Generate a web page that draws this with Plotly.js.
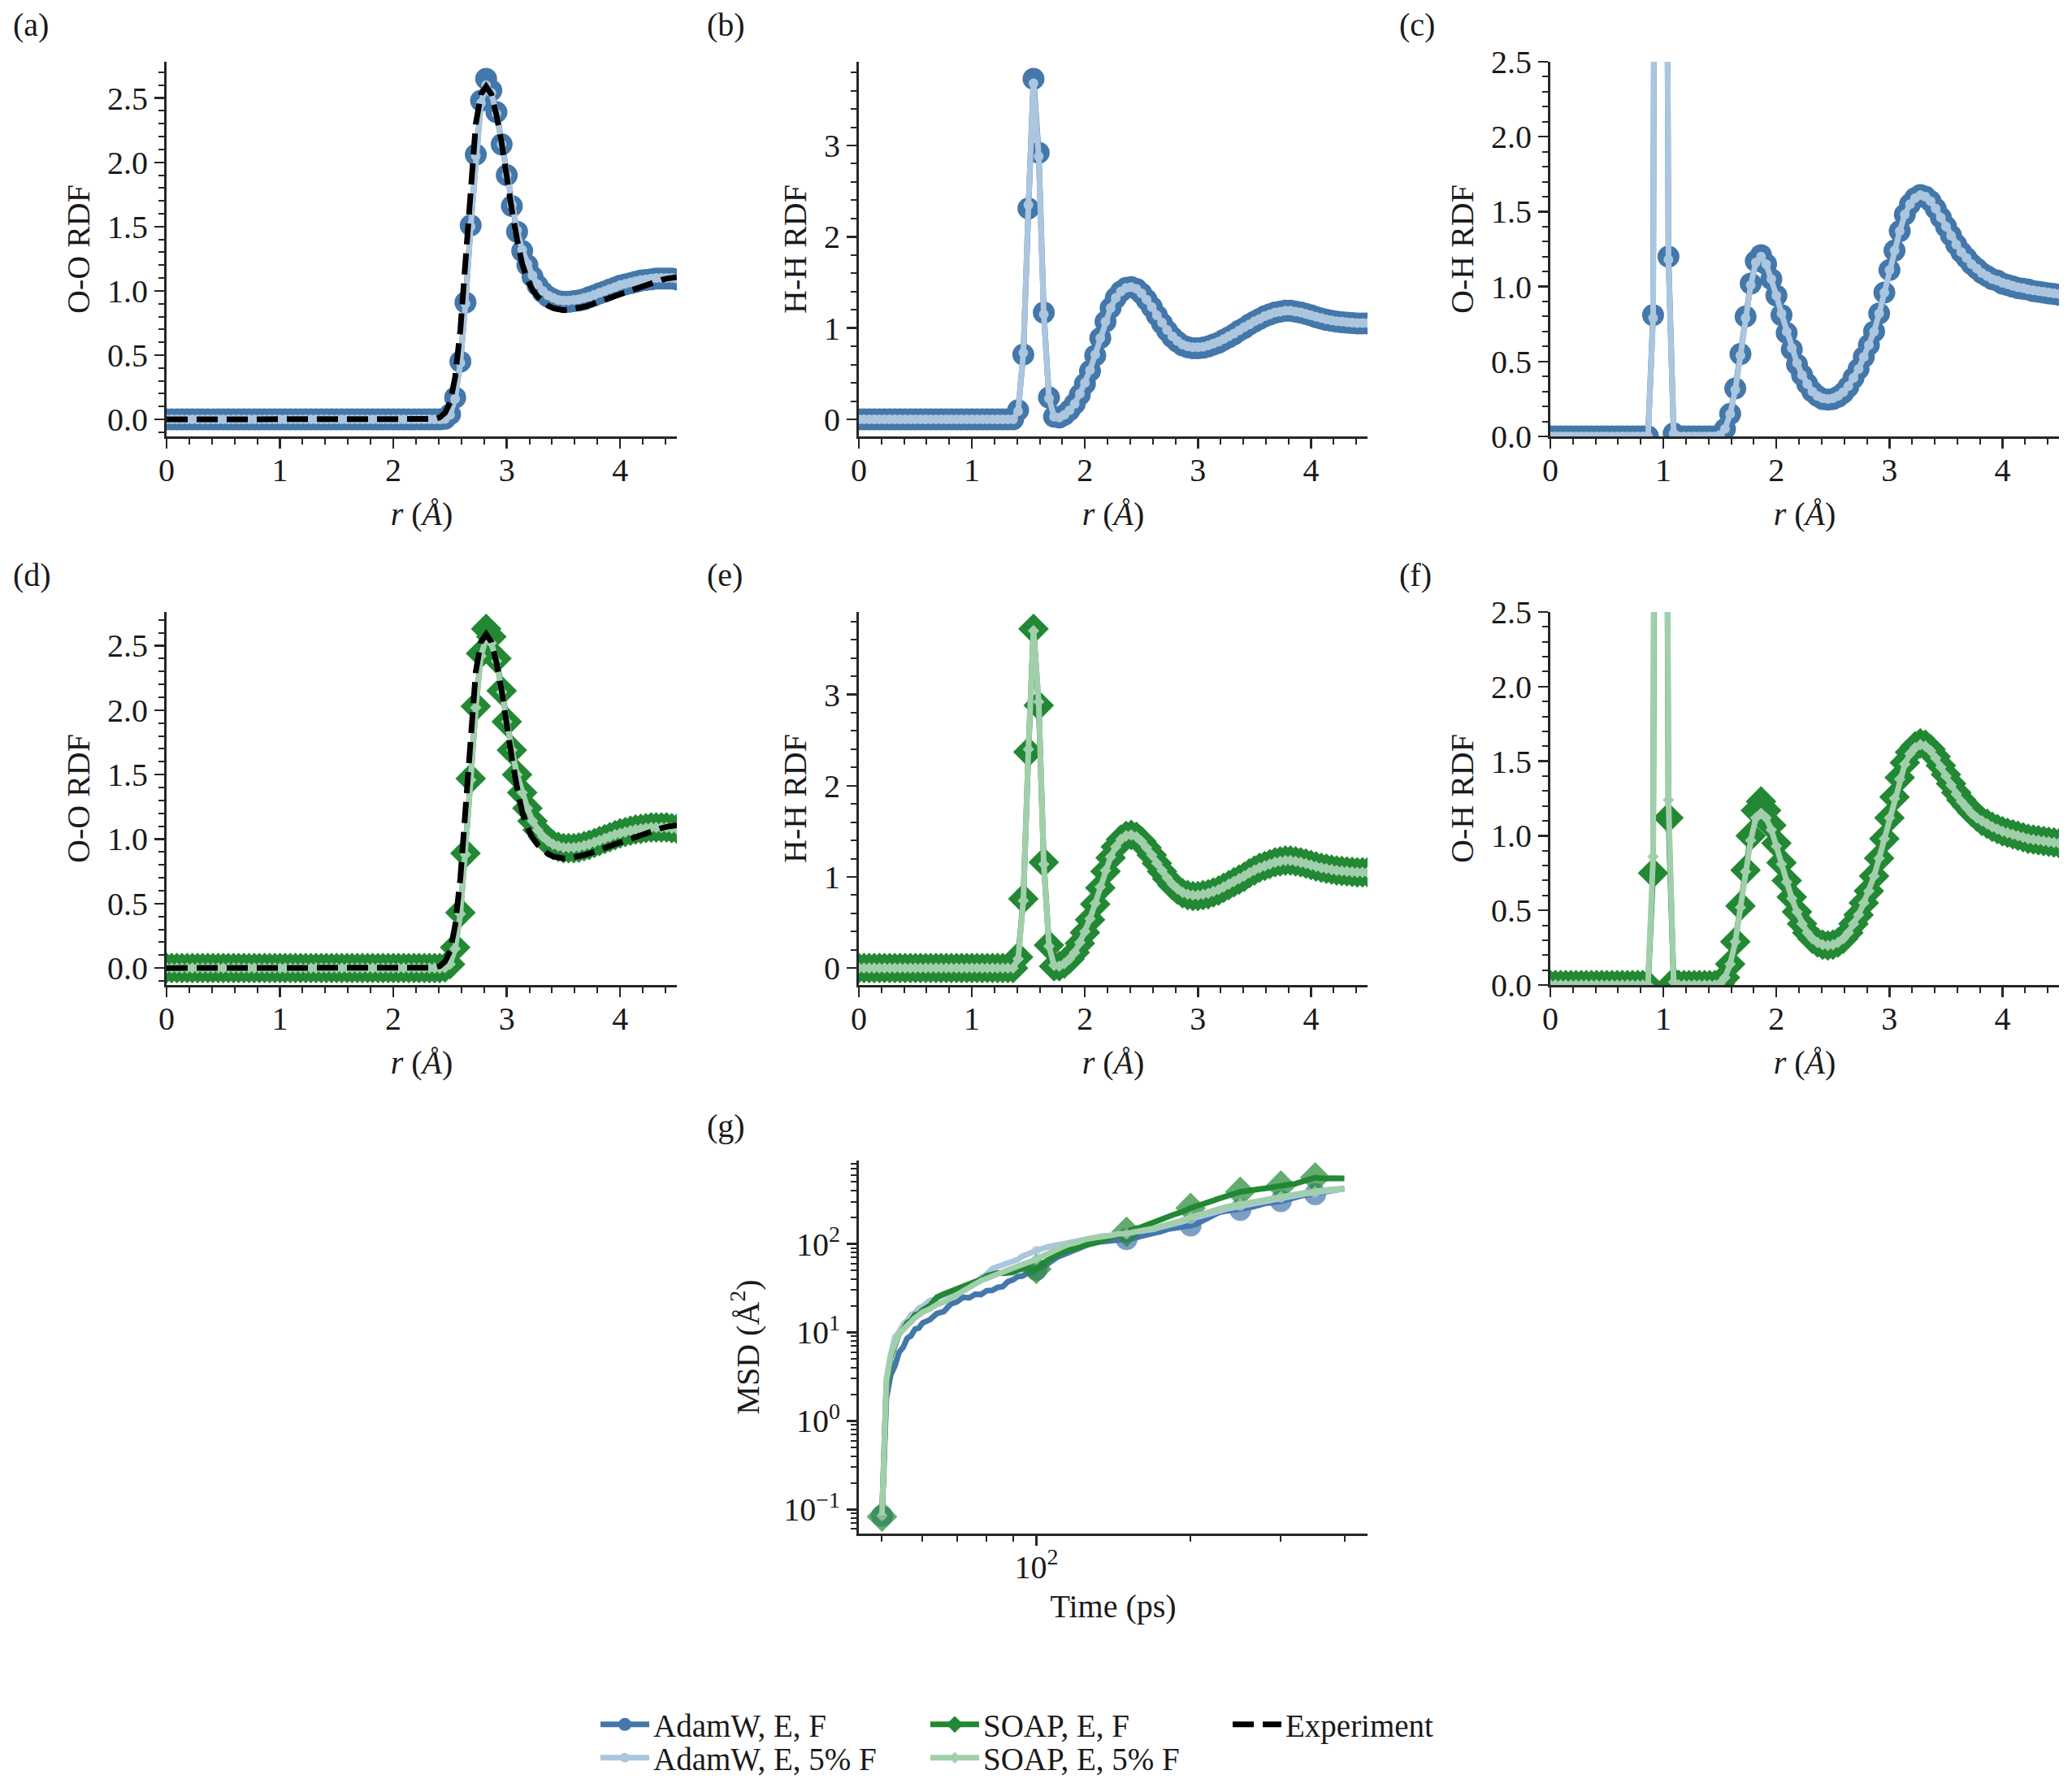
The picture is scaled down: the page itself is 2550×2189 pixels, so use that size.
<!DOCTYPE html>
<html>
<head>
<meta charset="utf-8">
<script src="https://cdn.plot.ly/plotly-3.0.1.min.js"></script>
<style>html,body{margin:0;padding:0;background:#fff;}</style>
</head>
<body>
<div id="fig" style="width:2550px;height:2189px;"></div>
<script>
// ---------- radial grid (Å) ----------
const R = [
  0.000,0.045,0.091,0.136,0.182,0.227,0.273,0.318,0.364,0.409,
  0.455,0.500,0.545,0.591,0.636,0.682,0.727,0.773,0.818,0.864,
  0.909,0.955,1.000,1.045,1.091,1.136,1.182,1.227,1.273,1.318,
  1.364,1.409,1.455,1.500,1.545,1.591,1.636,1.682,1.727,1.773,
  1.818,1.864,1.909,1.955,2.000,2.045,2.091,2.136,2.182,2.227,
  2.273,2.318,2.364,2.409,2.455,2.500,2.545,2.591,2.636,2.682,
  2.727,2.773,2.818,2.864,2.909,2.955,3.000,3.045,3.091,3.136,
  3.182,3.227,3.273,3.318,3.364,3.409,3.455,3.500,3.545,3.591,
  3.636,3.682,3.727,3.773,3.818,3.864,3.909,3.955,4.000,4.045,
  4.091,4.136,4.182,4.227,4.273,4.318,4.364,4.409,4.455,4.500
];

// ---------- O-O RDF ----------
const OO_ADAMW_EF = [
  0,0,0,0,0,0,0,0,0,0, 0,0,0,0,0,0,0,0,0,0, 0,0,0,0,0,0,0,0,0,0,
  0,0,0,0,0,0,0,0,0,0, 0,0,0,0,0,0,0,0,0,0,
  0,0,0,0,0.005,0.04,0.17,0.45,0.91,1.51,
  2.06,2.48,2.65,2.56,2.39,2.14,1.90,1.66,1.46,1.31,
  1.20,1.11,1.04,0.99,0.955,0.935,0.92,0.915,0.915,0.92,
  0.925,0.935,0.95,0.965,0.98,0.995,1.01,1.025,1.04,1.05,
  1.06,1.07,1.08,1.085,1.09,1.095,1.095,1.095,1.095,1.09
];
const OO_ADAMW_5F = [
  0,0,0,0,0,0,0,0,0,0, 0,0,0,0,0,0,0,0,0,0, 0,0,0,0,0,0,0,0,0,0,
  0,0,0,0,0,0,0,0,0,0, 0,0,0,0,0,0,0,0,0,0,
  0,0,0,0,0.004,0.035,0.16,0.44,0.90,1.50,
  2.05,2.46,2.60,2.54,2.38,2.14,1.90,1.67,1.47,1.32,
  1.21,1.12,1.05,1.00,0.965,0.945,0.93,0.925,0.925,0.93,
  0.935,0.945,0.955,0.97,0.985,1.00,1.015,1.03,1.045,1.055,
  1.065,1.075,1.085,1.09,1.095,1.10,1.10,1.10,1.10,1.095
];
const OO_SOAP_EF = [
  0,0,0,0,0,0,0,0,0,0, 0,0,0,0,0,0,0,0,0,0, 0,0,0,0,0,0,0,0,0,0,
  0,0,0,0,0,0,0,0,0,0, 0,0,0,0,0,0,0,0,0,0,
  0,0,0,0,0.005,0.03,0.16,0.43,0.89,1.47,
  2.03,2.44,2.63,2.57,2.40,2.15,1.91,1.69,1.50,1.36,
  1.24,1.14,1.07,1.02,0.98,0.955,0.94,0.93,0.93,0.93,
  0.935,0.945,0.955,0.97,0.985,1.00,1.015,1.03,1.045,1.055,
  1.065,1.075,1.08,1.085,1.09,1.09,1.09,1.09,1.085,1.08
];
const OO_SOAP_5F = [
  0,0,0,0,0,0,0,0,0,0, 0,0,0,0,0,0,0,0,0,0, 0,0,0,0,0,0,0,0,0,0,
  0,0,0,0,0,0,0,0,0,0, 0,0,0,0,0,0,0,0,0,0,
  0,0,0,0,0.004,0.03,0.15,0.42,0.88,1.46,
  2.02,2.42,2.56,2.52,2.38,2.14,1.91,1.69,1.50,1.36,
  1.24,1.14,1.07,1.02,0.985,0.96,0.945,0.935,0.935,0.935,
  0.94,0.95,0.96,0.975,0.99,1.005,1.02,1.035,1.045,1.055,
  1.065,1.075,1.08,1.085,1.09,1.09,1.09,1.09,1.085,1.08
];
const OO_EXPERIMENT = [
  0,0,0,0,0,0,0,0,0,0, 0,0,0,0,0,0,0,0,0,0, 0,0,0,0,0,0,0,0,0,0,
  0,0,0,0,0,0,0,0,0,0, 0,0,0,0,0,0,0,0,0,0,
  0,0,0.003,0.015,0.05,0.13,0.33,0.70,1.25,1.85,
  2.30,2.53,2.59,2.53,2.37,2.15,1.87,1.63,1.40,1.21,
  1.09,1.01,0.955,0.915,0.885,0.865,0.855,0.85,0.852,0.858,
  0.866,0.876,0.888,0.90,0.915,0.93,0.945,0.96,0.975,0.99,
  1.005,1.02,1.035,1.05,1.062,1.074,1.085,1.095,1.102,1.107
];

// ---------- H-H RDF ----------
const HH_ADAMW_EF = [
  0,0,0,0,0,0,0,0,0,0, 0,0,0,0,0,0,0,0,0,0, 0,0,0,0,0,0,0,0,0,0,
  0,0.10,0.71,2.31,3.73,2.92,1.17,0.24,0.03,0.02,
  0.05,0.10,0.17,0.27,0.39,0.53,0.70,0.89,1.07,1.22,
  1.33,1.40,1.44,1.45,1.43,1.38,1.31,1.23,1.14,1.05,
  0.97,0.90,0.85,0.81,0.79,0.78,0.78,0.785,0.80,0.82,
  0.84,0.87,0.90,0.93,0.97,1.00,1.04,1.07,1.10,1.13,
  1.15,1.17,1.18,1.19,1.19,1.18,1.17,1.155,1.14,1.12,
  1.105,1.09,1.08,1.07,1.065,1.06,1.055,1.05,1.05,1.05
];
const HH_ADAMW_5F = [
  0,0,0,0,0,0,0,0,0,0, 0,0,0,0,0,0,0,0,0,0, 0,0,0,0,0,0,0,0,0,0,
  0,0.09,0.73,2.35,3.68,2.88,1.15,0.23,0.03,0.02,
  0.05,0.10,0.17,0.28,0.40,0.54,0.71,0.89,1.07,1.22,
  1.33,1.40,1.44,1.45,1.43,1.38,1.31,1.23,1.14,1.06,
  0.98,0.91,0.86,0.82,0.80,0.79,0.79,0.795,0.81,0.83,
  0.85,0.88,0.91,0.94,0.975,1.01,1.04,1.075,1.10,1.13,
  1.15,1.17,1.18,1.19,1.19,1.18,1.17,1.155,1.14,1.125,
  1.11,1.095,1.085,1.075,1.07,1.065,1.06,1.055,1.055,1.055
];
const HH_SOAP_EF = [
  0,0,0,0,0,0,0,0,0,0, 0,0,0,0,0,0,0,0,0,0, 0,0,0,0,0,0,0,0,0,0,
  0,0.12,0.76,2.37,3.72,2.88,1.16,0.25,0.02,0.02,
  0.05,0.10,0.17,0.27,0.39,0.53,0.70,0.88,1.06,1.21,
  1.33,1.41,1.45,1.46,1.44,1.39,1.32,1.24,1.15,1.06,
  0.98,0.91,0.86,0.82,0.80,0.79,0.79,0.80,0.81,0.83,
  0.85,0.88,0.91,0.94,0.97,1.00,1.04,1.07,1.10,1.12,
  1.14,1.16,1.17,1.18,1.18,1.17,1.16,1.145,1.13,1.115,
  1.10,1.09,1.08,1.07,1.065,1.06,1.055,1.05,1.05,1.05
];
const HH_SOAP_5F = [
  0,0,0,0,0,0,0,0,0,0, 0,0,0,0,0,0,0,0,0,0, 0,0,0,0,0,0,0,0,0,0,
  0,0.10,0.74,2.40,3.70,2.92,1.14,0.24,0.03,0.02,
  0.05,0.10,0.17,0.28,0.40,0.54,0.71,0.89,1.07,1.22,
  1.33,1.41,1.45,1.46,1.44,1.39,1.32,1.24,1.15,1.07,
  0.99,0.92,0.87,0.83,0.81,0.80,0.80,0.81,0.82,0.84,
  0.86,0.89,0.92,0.95,0.98,1.01,1.045,1.075,1.10,1.12,
  1.14,1.16,1.17,1.18,1.18,1.17,1.16,1.145,1.13,1.115,
  1.10,1.09,1.08,1.07,1.065,1.06,1.055,1.05,1.05,1.05
];

// ---------- O-H RDF ----------
const OH_ADAMW_EF = [
  0,0,0,0,0,0,0,0,0,0, 0,0,0,0,0,0,0,0,0,0,
  0.81,12.5,9.0,1.20,0.02,0,0,0,0,0,
  0,0,0,0.01,0.05,0.15,0.32,0.55,0.80,1.02,
  1.17,1.21,1.15,1.05,0.94,0.81,0.69,0.58,0.48,0.41,
  0.35,0.30,0.27,0.25,0.245,0.25,0.265,0.29,0.33,0.39,
  0.45,0.53,0.61,0.70,0.82,0.96,1.11,1.24,1.37,1.48,
  1.55,1.59,1.61,1.60,1.57,1.52,1.46,1.40,1.34,1.28,
  1.23,1.19,1.15,1.12,1.09,1.07,1.05,1.04,1.02,1.01,
  1.00,0.99,0.985,0.98,0.97,0.965,0.96,0.955,0.95,0.945
];
const OH_ADAMW_5F = [
  0,0,0,0,0,0,0,0,0,0, 0,0,0,0,0,0,0,0,0,0,
  0.79,13.0,9.5,1.18,0.02,0,0,0,0,0,
  0,0,0,0.01,0.05,0.15,0.31,0.54,0.79,1.01,
  1.16,1.20,1.15,1.05,0.94,0.82,0.70,0.59,0.49,0.41,
  0.35,0.30,0.27,0.255,0.25,0.255,0.27,0.295,0.335,0.39,
  0.45,0.53,0.61,0.70,0.82,0.96,1.11,1.24,1.37,1.48,
  1.55,1.59,1.61,1.60,1.57,1.52,1.46,1.40,1.34,1.28,
  1.23,1.19,1.15,1.12,1.09,1.07,1.05,1.04,1.025,1.015,
  1.005,0.995,0.99,0.98,0.975,0.97,0.965,0.96,0.955,0.95
];
const OH_SOAP_EF = [
  0,0,0,0,0,0,0,0,0,0, 0,0,0,0,0,0,0,0,0,0,
  0.75,12.0,9.0,1.12,0.02,0,0,0,0,0,
  0,0,0,0.01,0.05,0.14,0.29,0.53,0.77,1.00,
  1.17,1.23,1.17,1.07,0.95,0.82,0.70,0.59,0.49,0.41,
  0.35,0.31,0.285,0.27,0.265,0.27,0.285,0.31,0.35,0.41,
  0.47,0.55,0.63,0.73,0.85,0.98,1.12,1.26,1.39,1.49,
  1.56,1.60,1.62,1.61,1.58,1.53,1.47,1.41,1.35,1.29,
  1.24,1.20,1.16,1.13,1.10,1.08,1.06,1.045,1.03,1.02,
  1.01,1.00,0.99,0.98,0.975,0.97,0.965,0.96,0.955,0.95
];
const OH_SOAP_5F = [
  0,0,0,0,0,0,0,0,0,0, 0,0,0,0,0,0,0,0,0,0,
  0.86,13.5,10.0,1.24,0.02,0,0,0,0,0,
  0,0,0,0.01,0.05,0.14,0.29,0.52,0.76,0.97,
  1.12,1.15,1.12,1.04,0.93,0.81,0.69,0.58,0.49,0.41,
  0.35,0.31,0.285,0.27,0.265,0.27,0.285,0.31,0.35,0.41,
  0.47,0.55,0.63,0.73,0.85,0.98,1.12,1.25,1.38,1.48,
  1.55,1.59,1.61,1.60,1.57,1.52,1.46,1.40,1.34,1.28,
  1.23,1.19,1.15,1.12,1.10,1.08,1.06,1.045,1.03,1.02,
  1.01,1.00,0.99,0.98,0.975,0.97,0.965,0.96,0.955,0.95
];

// ---------- mean squared displacement ----------
const T_PS = [
  50,51,52,53,54,55,56,57,58,59,60,
  62,64,66,68,70,72,74,76,78,80,82,84,86,88,90,92,94,96,98,
  100,105,110,115,120,125,130,135,140,145,150,155,160,165,170,175,180,185,190,195,
  200,205,210,215,220,225,230,235,240,245,250,255,260,265,270,275,280,285,290,295,
  300,305,310,315,320,325,330,335,340,345,350,355,360,365,370,375,380,385,390,395,399
];
const MSD_ADAMW_EF = [
  0.085,1.8,3.3,4.2,6.0,6.8,8.6,9.2,10.9,11.2,12.8,
  13.9,16.4,17.2,20.8,22.1,24.9,24.6,27.0,26.8,29.6,29.8,32.2,32.8,37.5,39.2,42.6,43.4,46.8,47.2,
  51,59,71,79,90,96,104,106,111,110,113,115,122,126,134,138,146,149,156,157,
  161,167,181,194,211,221,231,234,239,239,242,247,257,263,273,278,287,291,299,301,
  304,309,319,325,335,341,351,355,361,361,364,369,379,385,394,398,406,409,415,416,420
];
const MSD_ADAMW_5F = [
  0.085,3.0,5.6,8.9,10.1,12.4,13.6,15.9,16.6,18.9,19.6,
  22.9,24.1,26.4,27.1,29.9,30.6,33.5,35.4,41.6,45.3,52.6,55.4,58.7,59.4,63.6,66.4,72.6,76.4,81.6,
  84,92,97,105,109,116,118,123,124,128,128,134,137,144,147,155,159,168,174,184,
  190,200,206,216,222,232,238,248,254,263,268,277,282,291,296,304,308,316,320,328,
  331,338,341,348,351,358,361,368,371,377,379,385,387,393,395,401,403,409,411,416,418
];
const MSD_SOAP_EF = [
  0.083,2.5,5.2,7.3,9.7,10.8,12.8,13.7,15.8,16.2,17.9,
  20.1,25.0,27.1,29.0,30.6,33.5,34.6,38.0,39.6,43.5,45.1,47.0,46.6,47.0,47.6,50.5,52.1,54.0,52.1,
  52,65,75,85,90,98,102,111,117,128,137,147,154,166,175,189,199,213,224,241,
  254,266,275,291,304,319,329,343,355,373,387,396,399,405,409,419,424,433,439,449,
  454,461,465,473,477,491,504,519,529,549,562,556,547,546,545,551,551,554,551,551,548
];
const MSD_SOAP_5F = [
  0.085,2.8,5.6,7.9,9.9,10.7,12.1,13.1,14.6,15.7,16.9,
  18.4,20.6,21.9,24.1,25.9,28.6,31.4,35.1,38.4,41.1,43.4,46.1,47.9,50.6,52.9,56.1,58.9,61.6,63.9,
  67,77,87,98,104,113,117,123,125,130,130,136,139,146,150,158,163,173,180,191,
  198,209,216,227,235,246,253,263,269,279,284,293,298,306,311,319,323,331,334,341,
  344,351,354,361,364,371,374,380,382,388,390,396,398,404,406,412,413,418,419,424,425
];

// ---------- tick labels ----------
const MSD_TICKVALS = [0.1, 1, 10, 100];
const MSD_TICKTEXT = ['10<sup>\u22121</sup>', '10<sup>0</sup>', '10<sup>1</sup>', '10<sup>2</sup>'];
const TIME_TICKVALS = [100];
const TIME_TICKTEXT = ['10<sup>2</sup>'];

// ---------- styling ----------
const FONT = 'Liberation Serif, Times New Roman, serif';
const FS = 40;
const FS_LEG = 39;
const INK = '#1a1a1a';
const AXC = '#262626';
const C_ADAMW = '#4477aa';
const C_ADAMW_L = '#abc6de';
const C_SOAP = '#228833';
const C_SOAP_L = '#a2cfab';
const W = 2550, H = 2189;

const LW = 7;
const CIRC_BIG = 27, CIRC_SMALL = 12;
const DIA_BIG = 29, DIA_SMALL = 11;

function px(x) { return x / W; }
function py(y) { return 1 - y / H; }

function padded(arrs, frac) {
  let lo = Infinity, hi = -Infinity;
  arrs.forEach(a => a.forEach(v => { if (v < lo) lo = v; if (v > hi) hi = v; }));
  const p = (hi - lo) * frac;
  return [lo - p, hi + p];
}
function paddedLog(arrs, frac) {
  return padded(arrs.map(a => a.map(v => Math.log10(v))), frac);
}

const traces = [];
function rdfPair(ax, yDark, yLight, cDark, cLight, symbol, bigSize, smallSize, name, legDark, legLight, showLeg) {
  traces.push({
    type: 'scatter', mode: 'lines+markers', x: R, y: yDark, xaxis: 'x' + ax, yaxis: 'y' + ax,
    line: {color: cDark, width: LW}, marker: {color: cDark, size: bigSize, symbol: symbol, line: {width: 0}},
    name: name + ', E, F', legend: legDark, showlegend: showLeg
  });
  traces.push({
    type: 'scatter', mode: 'lines+markers', x: R, y: yLight, xaxis: 'x' + ax, yaxis: 'y' + ax,
    line: {color: cLight, width: LW}, marker: {color: cLight, size: smallSize, symbol: symbol, line: {width: 0}},
    name: name + ', E, 5% F', legend: legLight, showlegend: showLeg
  });
}
function experiment(ax, showLeg) {
  traces.push({
    type: 'scatter', mode: 'lines', x: R, y: OO_EXPERIMENT, xaxis: 'x' + ax, yaxis: 'y' + ax,
    line: {color: '#000000', width: LW, dash: '26px,11px'},
    name: 'Experiment', legend: 'legend5', showlegend: showLeg
  });
}

// row 1: AdamW
rdfPair('', OO_ADAMW_EF, OO_ADAMW_5F, C_ADAMW, C_ADAMW_L, 'circle', CIRC_BIG, CIRC_SMALL, 'AdamW', 'legend', 'legend2', true);
experiment('', true);
rdfPair('2', HH_ADAMW_EF, HH_ADAMW_5F, C_ADAMW, C_ADAMW_L, 'circle', CIRC_BIG, CIRC_SMALL, 'AdamW', 'legend', 'legend2', false);
rdfPair('3', OH_ADAMW_EF, OH_ADAMW_5F, C_ADAMW, C_ADAMW_L, 'circle', CIRC_BIG, CIRC_SMALL, 'AdamW', 'legend', 'legend2', false);
// row 2: SOAP
rdfPair('4', OO_SOAP_EF, OO_SOAP_5F, C_SOAP, C_SOAP_L, 'diamond', DIA_BIG, DIA_SMALL, 'SOAP', 'legend3', 'legend4', true);
experiment('4', false);
rdfPair('5', HH_SOAP_EF, HH_SOAP_5F, C_SOAP, C_SOAP_L, 'diamond', DIA_BIG, DIA_SMALL, 'SOAP', 'legend3', 'legend4', false);
rdfPair('6', OH_SOAP_EF, OH_SOAP_5F, C_SOAP, C_SOAP_L, 'diamond', DIA_BIG, DIA_SMALL, 'SOAP', 'legend3', 'legend4', false);

// row 3: MSD, markers every 50 ps
function every50(size) { return T_PS.map(t => ((t - 50) % 50 === 0 ? size : 0)); }
[
  [MSD_ADAMW_EF, C_ADAMW, 'circle', CIRC_BIG],
  [MSD_ADAMW_5F, C_ADAMW_L, 'circle', CIRC_SMALL],
  [MSD_SOAP_EF, C_SOAP, 'diamond', DIA_BIG],
  [MSD_SOAP_5F, C_SOAP_L, 'diamond', DIA_SMALL]
].forEach(([y, c, sym, s]) => {
  traces.push({
    type: 'scatter', mode: 'lines+markers', x: T_PS, y: y, xaxis: 'x7', yaxis: 'y7',
    line: {color: c, width: LW}, marker: {color: c, symbol: sym, size: every50(s), line: {width: 0}},
    showlegend: false
  });
});

// ---------- axes ----------
const tfont = {family: FONT, size: FS, color: INK};
const base = {
  showline: true, linecolor: AXC, linewidth: 3,
  ticks: 'outside', ticklen: 12, tickwidth: 2.5, tickcolor: AXC,
  showgrid: false, zeroline: false, tickfont: tfont
};
const minorBase = {ticks: 'outside', ticklen: 7, tickwidth: 2, tickcolor: AXC, showgrid: false};
function xr(domain, anchor) {
  return Object.assign({}, base, {
    domain: domain, anchor: anchor, range: [0, 4.5], dtick: 1, tick0: 0,
    ticklabelstandoff: -8,
    minor: Object.assign({dtick: 0.2, tick0: 0}, minorBase),
    title: {text: '<i>r</i> (<i>\u00c5</i>)', font: tfont, standoff: 18}
  });
}
function yr(domain, anchor, range, dtick, minorDtick, fmt, label) {
  return Object.assign({}, base, {
    domain: domain, anchor: anchor, range: range, dtick: dtick, tick0: 0, tickformat: fmt,
    minor: Object.assign({dtick: minorDtick, tick0: 0}, minorBase),
    title: {text: label, font: tfont, standoff: 10}
  });
}

const COL = [[px(205), px(833)], [px(1057), px(1683)], [px(1908), px(2534)]];
const ROW = [[py(537), py(76)], [py(1212), py(753)], [py(1887), py(1428)]];

function legendAt(x, y) {
  return {x: px(x), y: py(y), xanchor: 'left', yanchor: 'middle', itemwidth: 60,
          bgcolor: 'rgba(0,0,0,0)', font: {family: FONT, size: FS_LEG, color: INK}};
}

const layout = {
  width: W, height: H,
  margin: {l: 0, r: 0, t: 0, b: 0, pad: 0, autoexpand: false},
  paper_bgcolor: '#ffffff', plot_bgcolor: '#ffffff',
  font: tfont,
  xaxis: xr(COL[0], 'y'),
  yaxis: yr(ROW[0], 'x', padded([OO_ADAMW_EF, OO_ADAMW_5F, OO_EXPERIMENT], 0.05), 0.5, 0.1, '.1f', 'O-O RDF'),
  xaxis2: xr(COL[1], 'y2'),
  yaxis2: yr(ROW[0], 'x2', padded([HH_ADAMW_EF, HH_ADAMW_5F], 0.05), 1, 0.2, 'd', 'H-H RDF'),
  xaxis3: xr(COL[2], 'y3'),
  yaxis3: yr(ROW[0], 'x3', [0, 2.5], 0.5, 0.1, '.1f', 'O-H RDF'),
  xaxis4: xr(COL[0], 'y4'),
  yaxis4: yr(ROW[1], 'x4', padded([OO_SOAP_EF, OO_SOAP_5F, OO_EXPERIMENT], 0.05), 0.5, 0.1, '.1f', 'O-O RDF'),
  xaxis5: xr(COL[1], 'y5'),
  yaxis5: yr(ROW[1], 'x5', padded([HH_SOAP_EF, HH_SOAP_5F], 0.05), 1, 0.2, 'd', 'H-H RDF'),
  xaxis6: xr(COL[2], 'y6'),
  yaxis6: yr(ROW[1], 'x6', [0, 2.5], 0.5, 0.1, '.1f', 'O-H RDF'),
  xaxis7: Object.assign({}, base, {
    domain: COL[1], anchor: 'y7', type: 'log',
    range: paddedLog([T_PS], 0.05),
    tickmode: 'array', tickvals: TIME_TICKVALS, ticktext: TIME_TICKTEXT,
    ticklabelstandoff: -8,
    minor: Object.assign({tickmode: 'array', tickvals: [50, 60, 70, 80, 90, 200, 300, 400]}, minorBase),
    title: {text: 'Time (ps)', font: tfont, standoff: 12}
  }),
  yaxis7: Object.assign({}, base, {
    domain: ROW[2], anchor: 'x7', type: 'log',
    range: paddedLog([MSD_ADAMW_EF, MSD_ADAMW_5F, MSD_SOAP_EF, MSD_SOAP_5F], 0.05),
    tickmode: 'array', tickvals: MSD_TICKVALS, ticktext: MSD_TICKTEXT,
    minor: Object.assign({tickmode: 'array',
      tickvals: [0.05, 0.06, 0.07, 0.08, 0.09, 0.2, 0.3, 0.4, 0.5, 0.6, 0.7, 0.8, 0.9,
                 2, 3, 4, 5, 6, 7, 8, 9, 20, 30, 40, 50, 60, 70, 80, 90,
                 200, 300, 400, 500, 600, 700, 800, 900]}, minorBase),
    title: {text: 'MSD (\u00c5<sup>2</sup>)', font: tfont, standoff: 18}
  }),
  legend: legendAt(734, 2122),
  legend2: legendAt(734, 2163),
  legend3: legendAt(1140, 2122),
  legend4: legendAt(1140, 2163),
  legend5: legendAt(1512, 2122),
  annotations: [
    ['(a)', 14, 30], ['(b)', 868, 30], ['(c)', 1720, 30],
    ['(d)', 14, 707], ['(e)', 868, 707], ['(f)', 1720, 707],
    ['(g)', 868, 1385]
  ].map(([t, x, y]) => ({
    text: t, xref: 'paper', yref: 'paper', x: px(x), y: py(y),
    xanchor: 'left', yanchor: 'middle', showarrow: false, font: tfont
  }))
};

Plotly.newPlot('fig', traces, layout, {displayModeBar: false, staticPlot: true});
</script>
</body>
</html>
